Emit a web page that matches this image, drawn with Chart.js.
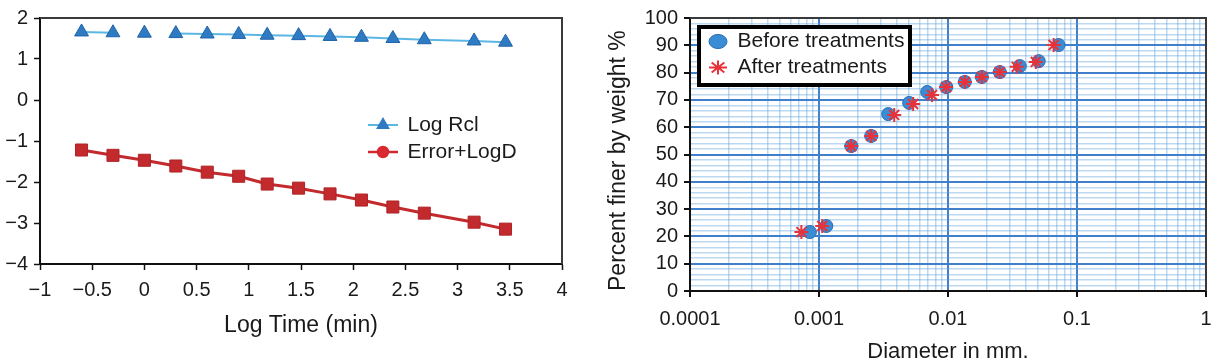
<!DOCTYPE html>
<html>
<head>
<meta charset="utf-8">
<script src="https://cdn.jsdelivr.net/npm/chart.js@4.4.1/dist/chart.umd.min.js"></script>
<style>
    html, body { margin: 0; padding: 0; background: #fff; }
    #left { position: absolute; left: 0; top: 0; }
    #right { position: absolute; left: 600px; top: 0; }
</style>
</head>
<body>
<canvas id="left" width="600" height="360"></canvas>
<canvas id="right" width="615" height="360"></canvas>
<script>
/*左图数据*/
var logTime   = [-0.602, -0.301, 0, 0.301, 0.602, 0.903, 1.176, 1.477, 1.778, 2.079, 2.380, 2.681, 3.158, 3.459];
var logRcl    = [1.66, 1.64, 1.63, 1.62, 1.61, 1.60, 1.58, 1.57, 1.55, 1.53, 1.50, 1.47, 1.44, 1.41];
var errorLogD = [-1.22, -1.35, -1.47, -1.61, -1.76, -1.86, -2.05, -2.15, -2.29, -2.44, -2.61, -2.76, -2.98, -3.15];
var leftXTicks = [-1, -0.5, 0, 0.5, 1, 1.5, 2, 2.5, 3, 3.5, 4];
var leftYTicks = [-4, -3, -2, -1, 0, 1, 2];

/*右图数据*/
var diaBefore = [0.00085, 0.00114, 0.00178, 0.00254, 0.00344, 0.0050, 0.0069, 0.0097, 0.0135, 0.0183, 0.0252, 0.0360, 0.0505, 0.0720];
var pctBefore = [21.6, 23.8, 53.1, 56.8, 64.8, 68.9, 72.9, 74.7, 76.6, 78.4, 80.2, 82.4, 84.2, 90.1];
var diaAfter  = [0.00073, 0.00106, 0.00178, 0.00254, 0.00383, 0.00537, 0.00752, 0.00966, 0.0135, 0.0183, 0.0252, 0.0341, 0.0479, 0.0659];
var pctAfter  = [21.6, 23.8, 53.1, 56.8, 64.5, 68.5, 71.8, 74.7, 76.6, 78.4, 80.2, 82.1, 83.9, 90.1];
var rightXTicks = [0.0001, 0.001, 0.01, 0.1, 1];
var rightXLabels = ['0.0001', '0.001', '0.01', '0.1', '1'];
var rightYTicks = [0, 10, 20, 30, 40, 50, 60, 70, 80, 90, 100];

Chart.defaults.font.family = "'Liberation Sans', Arial, sans-serif";
Chart.defaults.color = '#1a1a1a';

var INK = '#1a1a1a';
var MAJOR = '#3f7fcb';
var MINOR = 'rgba(90,160,220,0.4)';

function toXY(xs, ys) {
    return xs.map(function(x, i) { return {x: x, y: ys[i]}; });
}
function minus(v) {
    return String(v).replace('-', '\u2212');
}

/*上边和右边的框线*/
var frame = {
    id: 'frame',
    afterDraw: function(chart, args, opts) {
        var a = chart.chartArea, ctx = chart.ctx;
        ctx.save();
        ctx.strokeStyle = opts.color;
        ctx.lineWidth = opts.width;
        ctx.beginPath();
        ctx.moveTo(a.left, a.top);
        ctx.lineTo(a.right, a.top);
        ctx.lineTo(a.right, a.bottom);
        ctx.stroke();
        ctx.restore();
    }
};

/*图例位置 + 可选边框*/
var placeLegend = {
    id: 'placeLegend',
    afterInit: function(chart, args, opts) {
        var lg = chart.legend;
        if (!lg || !opts.box) return;
        var draw = lg.draw.bind(lg);
        lg.draw = function(area) {
            var ctx = chart.ctx, b = opts.box;
            ctx.save();
            ctx.fillStyle = '#fff';
            ctx.fillRect(b.x, b.y, b.w, b.h);
            ctx.strokeStyle = '#000';
            ctx.lineWidth = b.lw;
            ctx.strokeRect(b.x, b.y, b.w, b.h);
            ctx.restore();
            draw(area);
        };
    },
    afterLayout: function(chart, args, opts) {
        var lg = chart.legend;
        var w = lg.width, h = lg.height;
        lg.left = opts.x; lg.top = opts.y;
        lg.right = opts.x + w; lg.bottom = opts.y + h;
    }
};

/*左图图例图标：线 + 点*/
function lineIcon(color, lw, style, radius, fill) {
    var c = document.createElement('canvas');
    c.width = 30; c.height = 16;
    var g = c.getContext('2d');
    g.strokeStyle = color;
    g.lineWidth = lw;
    g.beginPath();
    g.moveTo(0, 8); g.lineTo(30, 8);
    g.stroke();
    g.fillStyle = fill;
    g.strokeStyle = fill;
    Chart.helpers.drawPoint(g, {pointStyle: style, radius: radius, borderWidth: 1}, 15, 8);
    return c;
}
var iconRcl = lineIcon('#5cb6e4', 2, 'triangle', 6, '#2e7bc4');
var iconErr = lineIcon('#d02a2e', 2.5, 'circle', 5, '#d82a2e');

new Chart(document.getElementById('left'), {
    type: 'line',
    data: {
        datasets: [{
            label: 'Log Rcl',
            data: toXY(logTime, logRcl),
            borderColor: '#5cb6e4',
            borderWidth: 2,
            pointStyle: 'triangle',
            pointRadius: 8,
            pointBackgroundColor: '#2e7bc4',
            pointBorderColor: '#1f63a8',
            pointBorderWidth: 1,
            segment: {
                borderColor: function(c) {
                    return (c.p0DataIndex === 1 || c.p0DataIndex === 2) ? 'rgba(0,0,0,0)' : '#5cb6e4';
                }
            }
        }, {
            label: 'Error+LogD',
            data: toXY(logTime, errorLogD),
            borderColor: '#c22a2e',
            borderWidth: 3,
            pointStyle: 'rect',
            pointRadius: 8.5,
            pointBackgroundColor: '#c22a2e',
            pointBorderColor: '#b02326',
            pointBorderWidth: 1
        }]
    },
    options: {
        responsive: false,
        animation: false,
        devicePixelRatio: 1,
        layout: { padding: { top: 17, right: 38, bottom: 0, left: 0 } },
        plugins: {
            tooltip: { enabled: false },
            frame: { color: '#3a3a3a', width: 2 },
            placeLegend: { x: 363, y: 108.5 },
            legend: {
                position: 'chartArea',
                align: 'start',
                labels: {
                    usePointStyle: true,
                    pointStyleWidth: 28,
                    boxHeight: 12,
                    padding: 6,
                    color: INK,
                    font: { size: 21 },
                    generateLabels: function() {
                        return [
                            { text: 'Log Rcl', pointStyle: iconRcl, datasetIndex: 0, lineWidth: 0, fontColor: INK, hidden: false },
                            { text: 'Error+LogD', pointStyle: iconErr, datasetIndex: 1, lineWidth: 0, fontColor: INK, hidden: false }
                        ];
                    }
                }
            }
        },
        scales: {
            x: {
                type: 'linear',
                min: -1, max: 4,
                afterBuildTicks: function(axis) { axis.ticks = leftXTicks.map(function(v) { return {value: v}; }); },
                afterFit: function(axis) { axis.height = 96; },
                ticks: { autoSkip: false, maxRotation: 0, padding: 8, font: { size: 20 }, color: INK, callback: minus },
                grid: { drawOnChartArea: false, tickLength: 6, tickColor: '#111', tickWidth: 1.5 },
                border: { color: '#111', width: 2 },
                title: { display: true, text: 'Log Time (min)', font: { size: 23 }, color: INK, padding: { top: 0, bottom: 21 } }
            },
            y: {
                min: -4, max: 2,
                afterBuildTicks: function(axis) { axis.ticks = leftYTicks.map(function(v) { return {value: v}; }); },
                afterFit: function(axis) { axis.width = 40; },
                ticks: { padding: 6, font: { size: 20 }, color: INK, callback: minus },
                grid: { drawOnChartArea: false, tickLength: 6, tickColor: '#111', tickWidth: 1.5 },
                border: { color: '#111', width: 2 }
            }
        }
    },
    plugins: [frame, placeLegend]
});

/*右图：对数坐标*/
function isDecade(v) {
    var e = Math.log10(v);
    return Math.abs(e - Math.round(e)) < 1e-9;
}
function decadeLabel(v) {
    for (var i = 0; i < rightXTicks.length; i++) {
        if (Math.abs(v / rightXTicks[i] - 1) < 1e-9) return rightXLabels[i];
    }
    return '';
}

new Chart(document.getElementById('right'), {
    type: 'scatter',
    data: {
        datasets: [{
            label: 'Before treatments',
            data: toXY(diaBefore, pctBefore),
            pointStyle: 'circle',
            pointRadius: 6.5,
            backgroundColor: '#3a8cd4',
            borderColor: '#2a6db4',
            borderWidth: 1,
            order: 1
        }, {
            label: 'After treatments',
            data: toXY(diaAfter, pctAfter),
            pointStyle: 'star',
            pointRadius: 7,
            backgroundColor: '#e8323a',
            borderColor: '#e8323a',
            borderWidth: 2,
            order: 0
        }]
    },
    options: {
        responsive: false,
        animation: false,
        devicePixelRatio: 1,
        layout: { padding: { top: 18, right: 7, bottom: 0, left: 0 } },
        plugins: {
            tooltip: { enabled: false },
            frame: { color: '#3a3a3a', width: 2 },
            placeLegend: { x: 104, y: 26, box: { x: 99, y: 27, w: 211, h: 58, lw: 4 } },
            legend: {
                position: 'chartArea',
                align: 'start',
                labels: {
                    usePointStyle: true,
                    pointStyleWidth: 18,
                    boxHeight: 10,
                    padding: 5,
                    color: INK,
                    font: { size: 21 },
                    sort: function(a, b) { return a.datasetIndex - b.datasetIndex; }
                }
            }
        },
        scales: {
            x: {
                type: 'logarithmic',
                min: 0.0001, max: 1,
                afterBuildTicks: function(axis) {
                    var t = [];
                    for (var i = 0; i < rightXTicks.length - 1; i++) {
                        for (var k = 1; k <= 9; k++) t.push({value: rightXTicks[i] * k});
                    }
                    t.push({value: rightXTicks[rightXTicks.length - 1]});
                    axis.ticks = t;
                },
                afterFit: function(axis) { axis.height = 69; axis.paddingLeft = 0; axis.paddingRight = 0; },
                ticks: { autoSkip: false, maxRotation: 0, padding: 10, font: { size: 20 }, color: INK, callback: decadeLabel },
                grid: {
                    color: function(c) { return c.tick && isDecade(c.tick.value) ? MAJOR : MINOR; },
                    lineWidth: function(c) { return c.tick && isDecade(c.tick.value) ? 2 : 1.5; },
                    tickColor: function(c) { return c.tick && isDecade(c.tick.value) ? '#111' : 'rgba(0,0,0,0)'; },
                    tickLength: 6, tickWidth: 2
                },
                border: { color: '#111', width: 2 },
                title: { display: true, text: 'Diameter in mm.', font: { size: 22 }, color: INK, padding: { top: 0, bottom: -5 } }
            },
            y: {
                min: 0, max: 100,
                afterBuildTicks: function(axis) {
                    var t = [];
                    for (var v = 0; v <= 100; v += 2) t.push({value: v});
                    axis.ticks = t;
                },
                afterFit: function(axis) { axis.width = 90; },
                ticks: {
                    autoSkip: false, padding: 6, font: { size: 20 }, color: INK,
                    callback: function(v) { return rightYTicks.indexOf(v) >= 0 ? String(v) : ''; }
                },
                grid: {
                    color: function(c) { return c.tick && c.tick.value % 10 === 0 ? MAJOR : MINOR; },
                    lineWidth: function(c) { return c.tick && c.tick.value % 10 === 0 ? 2 : 1.5; },
                    tickColor: function(c) { return c.tick && c.tick.value % 10 === 0 ? '#111' : 'rgba(0,0,0,0)'; },
                    tickLength: 6, tickWidth: 2
                },
                border: { color: '#111', width: 2 },
                title: { display: true, text: 'Percent finer by weight %', align: 'start', font: { size: 23 }, color: INK, padding: { top: 5, bottom: 0 } }
            }
        }
    },
    plugins: [frame, placeLegend]
});
</script>
</body>
</html>
